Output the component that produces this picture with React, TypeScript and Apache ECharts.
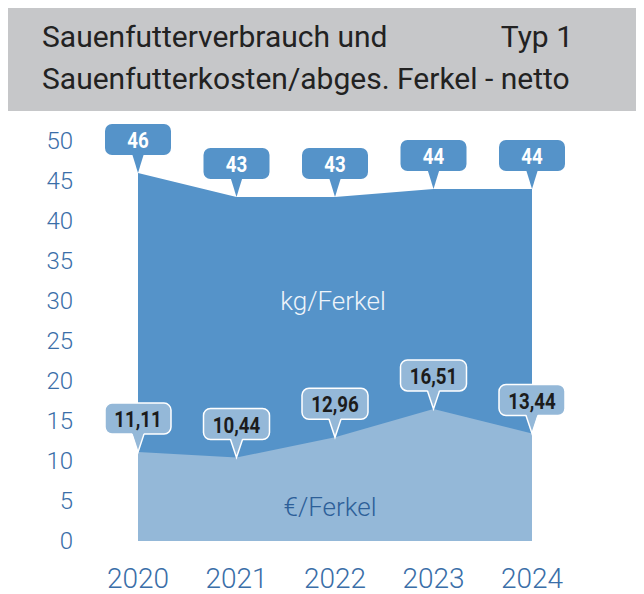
import React, { useEffect, useRef } from "react";
import * as echarts from "echarts";

const years = ["2020", "2021", "2022", "2023", "2024"];
const feedKg = [46, 43, 43, 44, 44];
const costEur = [11.11, 10.44, 12.96, 16.51, 13.44];
const yTicks = { min: 0, max: 50, interval: 5 };

const DARK = "#5593c9";
const LIGHT = "#94b8d8";
const AXIS_BLUE = "#3a6ea8";

const fmt = (v: number) => v.toFixed(2).replace(".", ",");

function callout(fill: string, textColor: string, border: boolean, formatter: (v: number) => string) {
  return (params: any, api: any) => {
    const idx = api.value(0);
    const val = api.value(1);
    const p = api.coord([idx, val]);
    const w = 66, h = 31, ph = 18, pw = 6;
    const bx = p[0] - w / 2;
    const by = p[1] - ph - h;
    const bottom = p[1] - ph;
    const children: any[] = [
      {
        type: "rect",
        shape: { x: bx, y: by, width: w, height: h, r: 7 },
        style: { fill, stroke: border ? "#ffffff" : fill, lineWidth: border ? 1.5 : 0 },
      },
      {
        type: "polygon",
        shape: { points: [[p[0] - pw, bottom - 1.5], [p[0], p[1]], [p[0] + pw, bottom - 1.5]] },
        style: { fill },
      },
    ];
    if (border) {
      children.push({
        type: "polyline",
        shape: { points: [[p[0] - pw, bottom], [p[0], p[1]], [p[0] + pw, bottom]] },
        style: { fill: null, stroke: "#ffffff", lineWidth: 1.5 },
      });
    }
    children.push({
      type: "text",
      x: p[0],
      y: by + h / 2 + 1,
      scaleX: 0.85,
      style: {
        text: formatter(val),
        fill: textColor,
        font: "bold 22px Roboto",
        align: "center",
        verticalAlign: "middle",
      },
    });
    return { type: "group", children };
  };
}

export default function App() {
  const ref = useRef<HTMLDivElement>(null);
  useEffect(() => {
    if (!ref.current) return;
    const chart = echarts.init(ref.current, null, { renderer: "svg" });
    chart.setOption({
      animation: false,
      backgroundColor: "#ffffff",
      grid: { left: 138, right: 112, top: 141, bottom: 53, containLabel: false },
      xAxis: {
        type: "category",
        data: years,
        boundaryGap: false,
        axisLine: { show: false },
        axisTick: { show: false },
        axisLabel: { color: AXIS_BLUE, fontSize: 28, fontWeight: 300, fontFamily: "Roboto", margin: 23 },
      },
      yAxis: {
        type: "value",
        min: yTicks.min,
        max: yTicks.max,
        interval: yTicks.interval,
        splitLine: { show: false },
        axisLine: { show: false },
        axisTick: { show: false },
        axisLabel: { color: AXIS_BLUE, fontSize: 24, fontWeight: 300, fontFamily: "Roboto", margin: 65 },
      },
      graphic: [
        { type: "rect", x: 4, y: 3, shape: { width: 640, height: 108 }, style: { fill: "#c6c7c9" }, z: -1 },
        {
          type: "text", x: 42, y: 36,
          style: { text: "Sauenfutterverbrauch und", font: "30px Roboto", fill: "#222222", verticalAlign: "middle" },
        },
        {
          type: "text", x: 573, y: 36,
          style: { text: "Typ 1", font: "30px Roboto", fill: "#222222", align: "right", verticalAlign: "middle" },
        },
        {
          type: "text", x: 42, y: 78,
          style: { text: "Sauenfutterkosten/abges. Ferkel - netto", font: "30px Roboto", fill: "#222222", verticalAlign: "middle" },
        },
        {
          type: "text", x: 333, y: 301, z: 10,
          style: { text: "kg/Ferkel", font: "300 26px Roboto", fill: "#eef4fa", align: "center", verticalAlign: "middle" },
        },
        {
          type: "text", x: 330, y: 507, z: 10,
          style: { text: "€/Ferkel", font: "300 26px Roboto", fill: "#2d5f98", align: "center", verticalAlign: "middle" },
        },
      ],
      series: [
        {
          type: "line",
          data: feedKg,
          symbol: "none",
          lineStyle: { width: 0 },
          areaStyle: { color: DARK, opacity: 1 },
          z: 1,
        },
        {
          type: "line",
          data: costEur,
          symbol: "none",
          lineStyle: { width: 0 },
          areaStyle: { color: LIGHT, opacity: 1 },
          z: 2,
        },
        {
          type: "custom",
          data: feedKg.map((v, i) => [i, v]),
          renderItem: callout(DARK, "#ffffff", false, (v) => String(v)),
          clip: false,
          z: 5,
        },
        {
          type: "custom",
          data: costEur.map((v, i) => [i, v]),
          renderItem: callout(LIGHT, "#1c1c1c", true, fmt),
          clip: false,
          z: 6,
        },
      ],
    });
    return () => chart.dispose();
  }, []);
  return <div ref={ref} style={{ width: 644, height: 594, marginLeft: -8, marginTop: -8 }} />;
}
